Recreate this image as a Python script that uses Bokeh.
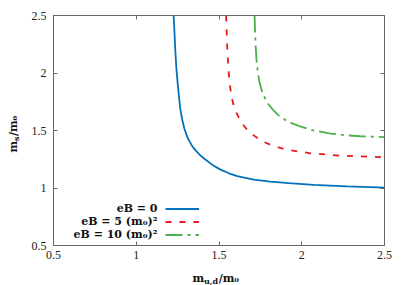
import math
from bokeh.plotting import figure
from bokeh.models import Label, Legend, LegendItem, LinearAxis, FixedTicker, Range1d
from bokeh.core.properties import value
from bokeh.embed import file_html
from bokeh.resources import INLINE

# ---- data ----
x_ticks = [0.5, 1, 1.5, 2, 2.5]
x_tick_labels = ["0.5", "1", "1.5", "2", "2.5"]
y_ticks = [0.5, 1, 1.5, 2, 2.5]
y_tick_labels = ["0.5", "1", "1.5", "2", "2.5"]

series_names = ["eB = 0", "eB = 5 (m\u2080)\u00b2", "eB = 10 (m\u2080)\u00b2"]

eb0_x = [1.226, 1.231, 1.236, 1.242, 1.249, 1.257, 1.266, 1.277, 1.290, 1.304,
         1.320, 1.340, 1.360, 1.385, 1.410, 1.458, 1.509, 1.560, 1.610, 1.710,
         1.811, 1.922, 2.073, 2.275, 2.500]
eb0_y = [2.500, 2.350, 2.200, 2.050, 1.930, 1.810, 1.690, 1.600, 1.520, 1.460,
         1.410, 1.360, 1.325, 1.287, 1.256, 1.203, 1.160, 1.128, 1.104, 1.073,
         1.055, 1.042, 1.028, 1.014, 1.004]

eb5_x = [1.543, 1.547, 1.551, 1.556, 1.562, 1.569, 1.578, 1.590, 1.605, 1.622,
         1.640, 1.662, 1.690, 1.720, 1.765, 1.811, 1.902, 2.053, 2.224, 2.395,
         2.500]
eb5_y = [2.500, 2.330, 2.190, 2.060, 1.950, 1.860, 1.780, 1.710, 1.655, 1.605,
         1.562, 1.520, 1.480, 1.447, 1.405, 1.376, 1.334, 1.302, 1.282, 1.272,
         1.268]

eb10_x = [1.715, 1.718, 1.722, 1.728, 1.736, 1.746, 1.760, 1.778, 1.800, 1.831,
          1.865, 1.902, 1.945, 1.990, 2.073, 2.174, 2.270, 2.355, 2.500]
eb10_y = [2.500, 2.360, 2.220, 2.090, 1.990, 1.910, 1.840, 1.780, 1.725, 1.672,
          1.625, 1.590, 1.560, 1.535, 1.500, 1.473, 1.458, 1.450, 1.442]

colors = ["#0072BD", "#E41A1C", "#4DAF4A"]
dashes = ["solid", "6 8", "17 5 3 5"]

# ---- figure ----
p = figure(width=407, height=285, output_backend="svg", toolbar_location=None,
           x_range=Range1d(0.5, 2.5), y_range=Range1d(0.5, 2.5),
           min_border_left=53, min_border_right=23, min_border_top=15,
           min_border_bottom=40)
p.xgrid.visible = False
p.ygrid.visible = False
p.outline_line_color = "#666666"
p.outline_line_width = 1
p.background_fill_color = "white"
p.border_fill_color = "white"

tick_font = "Liberation Serif"

def style_axis(ax, ticks, labels, show_labels=True):
    ax.ticker = FixedTicker(ticks=ticks)
    ax.major_tick_in = 4
    ax.major_tick_out = 0
    ax.minor_tick_line_color = None
    ax.major_tick_line_color = "#666666"
    ax.axis_line_color = "#666666"
    ax.major_label_text_font = tick_font
    ax.major_label_text_color = "#222222"
    if show_labels:
        ax.major_label_text_font_size = "12px"
        ax.major_label_overrides = dict(zip(ticks, labels))
    else:
        ax.major_label_text_font_size = "0px"
        ax.major_label_overrides = {t: "" for t in ticks}

style_axis(p.xaxis[0], x_ticks, x_tick_labels)
style_axis(p.yaxis[0], y_ticks, y_tick_labels)
p.xaxis[0].major_label_standoff = 5
p.yaxis[0].major_label_standoff = 7

top_axis = LinearAxis()
style_axis(top_axis, x_ticks, x_tick_labels, show_labels=False)
top_axis.major_label_standoff = 0
p.add_layout(top_axis, "above")
right_axis = LinearAxis()
style_axis(right_axis, y_ticks, y_tick_labels, show_labels=False)
right_axis.major_label_standoff = 0
p.add_layout(right_axis, "right")

xs = [eb0_x, eb5_x, eb10_x]
ys = [eb0_y, eb5_y, eb10_y]
renderers = []
for xv, yv, c, d in zip(xs, ys, colors, dashes):
    r = p.line(xv, yv, line_color=c, line_width=1.8, line_dash=d)
    renderers.append(r)

# legend glyph samples (text placed separately to the left)
legend = Legend(items=[LegendItem(label=value(""), renderers=[r]) for r in renderers],
                location=(112, 4), orientation="vertical", padding=0, spacing=0,
                margin=0, glyph_width=34, glyph_height=13, label_height=13,
                label_width=0, label_standoff=0, label_text_font_size="8px",
                border_line_color=None, background_fill_alpha=0)
p.add_layout(legend, "center")

bold_font = "DejaVu Serif"
for i, name in enumerate(series_names):
    p.add_layout(Label(x=157, y=207.5 + 13.3 * i, x_units="canvas", y_units="canvas",
                       text=name, text_align="right", text_baseline="middle",
                       text_font=bold_font, text_font_style="bold",
                       text_font_size="11px", text_color="#111111"))

def piece(t, xc, yc, fs, angle=0.0):
    return Label(x=xc, y=yc, x_units="canvas", y_units="canvas", text=t,
                 angle=angle, text_align="left", text_baseline="alphabetic",
                 text_font=bold_font, text_font_style="bold",
                 text_font_size=fs, text_color="#111111")

# x axis label  m_{u,d}/m_0  (absolute canvas positions; the pieces are spread over
# the side panels only so that the plot frame keeps its place)
p.add_layout(piece("m", 192, 278, "11px"), "right")
p.add_layout(piece("u,d", 203.5, 280.5, "8px"), "above")
p.add_layout(piece("/m\u2080", 218.2, 278, "11px"), "below")

# y axis label  m_s/m_0  (rotated, reading upwards)
p.add_layout(piece("m", 13, 152, "11px", math.pi / 2), "left")
p.add_layout(piece("s", 15.5, 140.4, "8px", math.pi / 2), "above")
p.add_layout(piece("/m\u2080", 13, 135.6, "11px", math.pi / 2), "left")

open("out.html", "w").write(file_html(p, INLINE))
